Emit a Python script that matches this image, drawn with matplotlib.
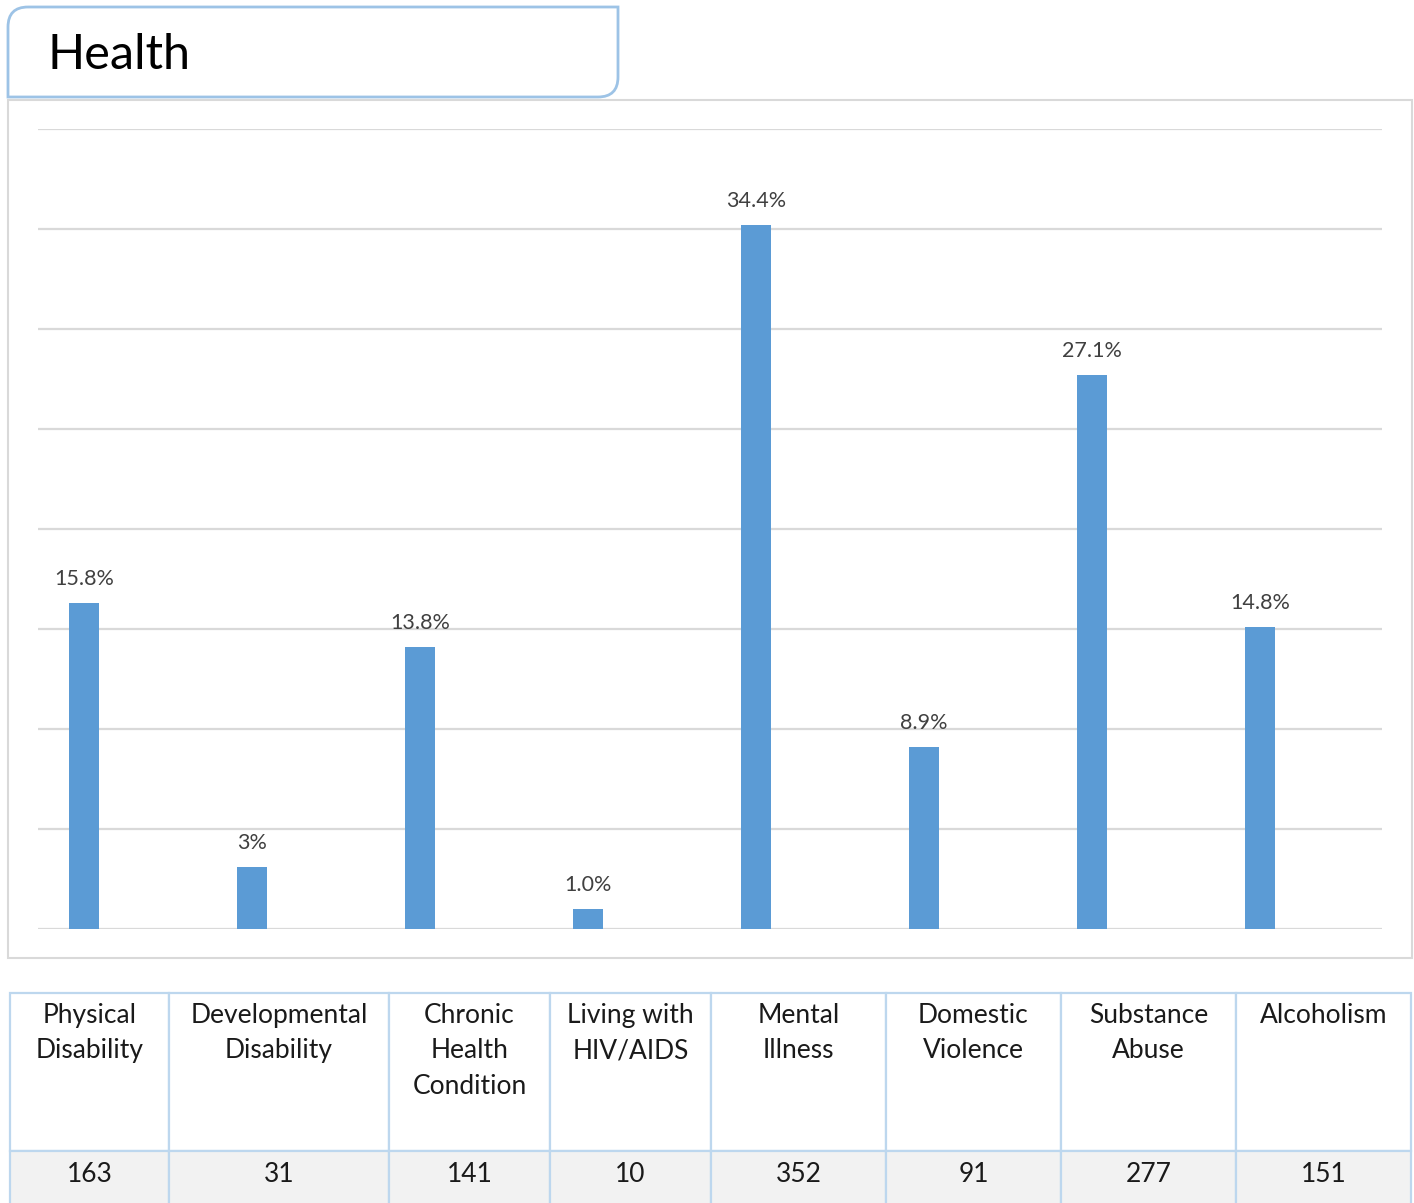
#!/usr/bin/env python3
"""Health: counts per condition as bars, with a count table below."""
import matplotlib
matplotlib.use("Agg")
import matplotlib.pyplot as plt
from matplotlib.patches import Rectangle, PathPatch
from matplotlib.path import Path

plt.rcParams["font.family"] = ["Lato", "DejaVu Sans"]

TITLE = "Health"
CATEGORIES = [
    "Physical\nDisability",
    "Developmental\nDisability",
    "Chronic\nHealth\nCondition",
    "Living with\nHIV/AIDS",
    "Mental\nIllness",
    "Domestic\nViolence",
    "Substance\nAbuse",
    "Alcoholism",
]
COUNTS = [163, 31, 141, 10, 352, 91, 277, 151]
PCT_LABELS = ["15.8%", "3%", "13.8%", "1.0%", "34.4%", "8.9%", "27.1%", "14.8%"]

# table column edges in pixels
COL_EDGES = [10, 169, 389, 550, 711, 886, 1061, 1236, 1411]

W, H = 1414, 1203
BAR_COLOR = "#5B9BD5"
GRID_COLOR = "#D9D9D9"
TABLE_LINE = "#BDD7EE"


def rounded_diag_box(x0, y0, x1, y1, r):
    # rounded top-left and bottom-right, square on the other two corners
    verts = [
        (x0 + r, y0), (x1, y0), (x1, y1 - r),
        (x1, y1), (x1 - r, y1),
        (x0, y1), (x0, y0 + r),
        (x0, y0), (x0 + r, y0),
    ]
    codes = [
        Path.MOVETO, Path.LINETO, Path.LINETO,
        Path.CURVE3, Path.CURVE3,
        Path.LINETO, Path.LINETO,
        Path.CURVE3, Path.CURVE3,
    ]
    return Path(verts, codes)


def main():
    fig = plt.figure(figsize=(W / 100, H / 100), dpi=100)

    # overlay in pixel coordinates
    bg = fig.add_axes([0, 0, 1, 1])
    bg.set_xlim(0, W)
    bg.set_ylim(H, 0)
    bg.axis("off")

    # title box
    bg.add_patch(PathPatch(rounded_diag_box(8, 7, 618, 97, 20), facecolor="white",
                           edgecolor="#9DC3E6", lw=2))
    bg.text(47, 55, TITLE, fontsize=35, va="center", ha="left", color="black")

    # chart frame
    bg.add_patch(Rectangle((8, 100), 1404, 858, facecolor="none", edgecolor=GRID_COLOR, lw=1.5))

    # bar chart
    x0, x1, ytop, ybot = 38, 1382, 129, 929
    ax = fig.add_axes([x0 / W, 1 - ybot / H, (x1 - x0) / W, (ybot - ytop) / H])
    ax.set_zorder(2)
    ax.patch.set_alpha(0)
    xs = list(range(len(COUNTS)))
    ax.bar(xs, COUNTS, width=0.179, color=BAR_COLOR, zorder=3)
    ax.set_xlim(-0.274, 7.726)
    ax.set_ylim(0, 400)
    ax.set_yticks(range(0, 401, 50))
    ax.grid(axis="y", color=GRID_COLOR, lw=1.6, zorder=0)
    ax.tick_params(left=False, bottom=False, labelleft=False, labelbottom=False)
    for s in ax.spines.values():
        s.set_visible(False)
    for x, c, lab in zip(xs, COUNTS, PCT_LABELS):
        ax.annotate(lab, (x, c), xytext=(0, 14), textcoords="offset pixels",
                    ha="center", va="bottom", fontsize=15.5, color="#404040")

    # table below
    t_top, t_mid, t_bot = 993, 1151, 1215
    for i, (name, n) in enumerate(zip(CATEGORIES, COUNTS)):
        l, r = COL_EDGES[i], COL_EDGES[i + 1]
        bg.add_patch(Rectangle((l, t_top), r - l, t_mid - t_top, facecolor="white",
                               edgecolor=TABLE_LINE, lw=1.6))
        bg.add_patch(Rectangle((l, t_mid), r - l, t_bot - t_mid, facecolor="#F2F2F2",
                               edgecolor=TABLE_LINE, lw=1.6))
        cx = (l + r) / 2
        bg.text(cx, 1003, name, ha="center", va="top", fontsize=19,
                linespacing=1.52, color="#1a1a1a")
        bg.text(cx, 1174, str(n), ha="center", va="center", fontsize=19, color="#1a1a1a")

    fig.savefig("out.png", dpi=100)
    plt.close(fig)


if __name__ == "__main__":
    main()
